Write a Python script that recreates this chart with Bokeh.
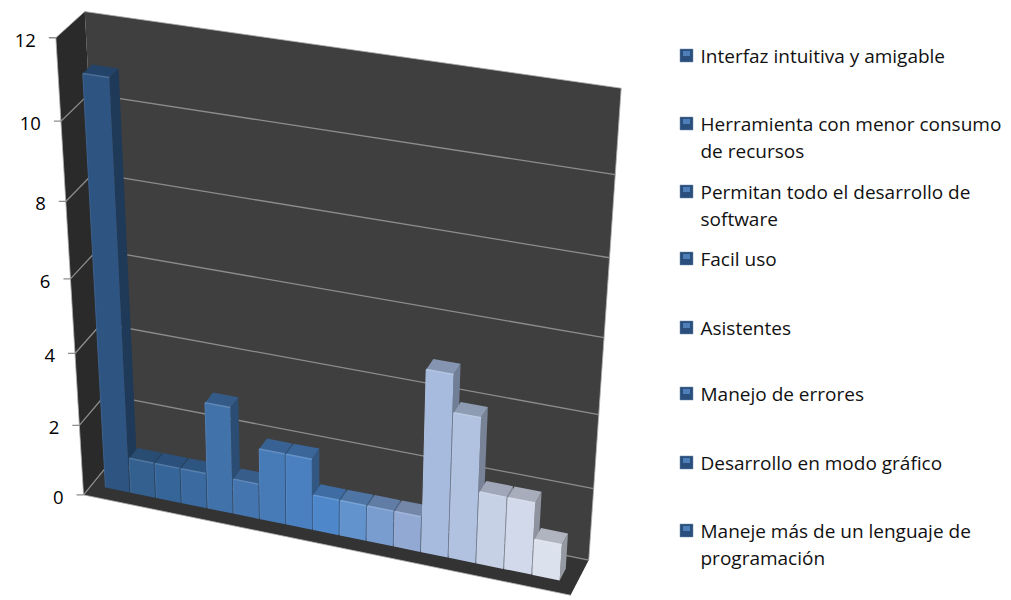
import numpy as np
from bokeh.plotting import figure
from bokeh.models import Range1d
from bokeh.core.properties import value
from bokeh.embed import file_html
from bokeh.resources import INLINE

# ---- data ----
bar_values = [11, 1, 1, 1, 3, 1, 2, 2, 1, 1, 1, 1, 5, 4, 2, 2, 1]
tick_values = [0, 2, 4, 6, 8, 10, 12]
tick_labels = ["0", "2", "4", "6", "8", "10", "12"]
legend_labels = [
    ["Interfaz intuitiva y amigable"],
    ["Herramienta con menor consumo", "de recursos"],
    ["Permitan todo el desarrollo de", "software"],
    ["Facil uso"],
    ["Asistentes"],
    ["Manejo de errores"],
    ["Desarrollo en modo gráfico"],
    ["Maneje más de un lenguaje de", "programación"],
]

# ---- style ----
bar_colors = ["#2e5482", "#33608f", "#36659a", "#3a6aa0", "#4272aa", "#4575ae", "#477bb8", "#4a80c0",
              "#4f87cb", "#6293cd", "#7a9dd0", "#92a9d4", "#a7bbde", "#b1c2e0", "#c7d1e6", "#d2d9ea", "#dce1ee"]
WALL_BACK, WALL_LEFT, FLOOR = "#3f3f3f", "#2a2a2a", "#333333"
GRID = "#8c8c8c"
FONT = value("Open Sans")
legend_rows = [55, 123, 191, 258, 327, 393, 462, 530]
LINE_GAP = 27
W, H = 1011, 600

# ---- perspective frame: plot-box landmarks (u, v, depth) -> page pixel, fitted as a camera ----
landmarks = [
    (0, 12, 1, 87, 10), (0, 0, 1, 106, 467), (1, 12, 1, 621, 88), (1, 0, 1, 588, 557),
    (1, 10, 1, 615, 175), (1, 8, 1, 609, 257), (1, 6, 1, 604, 337), (1, 4, 1, 598, 413), (1, 2, 1, 593, 488),
    (0, 12, 0, 53, 39), (0, 10, 0, 59, 120.5), (0, 8, 0, 65, 201), (0, 6, 0, 70, 278),
    (0, 4, 0, 75, 352), (0, 2, 0, 80, 423), (0, 0, 0, 85, 493), (1, 0, 0, 570, 598),
]
A, b = [], []
for u, v, d, x, y in landmarks:
    A.append([u, v, d, 1, 0, 0, 0, 0, -x * u, -x * v, -x * d]); b.append(x)
    A.append([0, 0, 0, 0, u, v, d, 1, -y * u, -y * v, -y * d]); b.append(y)
P = np.linalg.lstsq(np.array(A, float), np.array(b, float), rcond=None)[0]
P = np.append(P, 1.0).reshape(3, 4)


def proj(u, v, d):
    X = P @ np.array([u, v, d, 1.0])
    return X[0] / X[2], X[1] / X[2]


def poly(pts):
    q = [proj(*t) for t in pts]
    return [a for a, _ in q], [c for _, c in q]


def shade(col, f):
    r, g, bb = (int(col[i:i + 2], 16) for i in (1, 3, 5))
    if f <= 1:
        r, g, bb = r * f, g * f, bb * f
    else:
        t = f - 1
        r, g, bb = r + (255 - r) * t, g + (255 - g) * t, bb + (255 - bb) * t
    return "#%02x%02x%02x" % (int(r), int(g), int(bb))


p = figure(width=W, height=H, output_backend="svg", toolbar_location=None,
           x_range=Range1d(0, W), y_range=Range1d(H, 0),
           min_border=0, outline_line_color=None, background_fill_color="white")
p.xaxis.visible = False
p.yaxis.visible = False
p.grid.visible = False

vmax = max(tick_values)
# walls
for pts, c in [([(0, 0, 1), (1, 0, 1), (1, vmax, 1), (0, vmax, 1)], WALL_BACK),
               ([(0, 0, 0), (0, 0, 1), (0, vmax, 1), (0, vmax, 0)], WALL_LEFT),
               ([(0, 0, 0), (1, 0, 0), (1, 0, 1), (0, 0, 1)], FLOOR)]:
    xs, ys = poly(pts)
    p.patch(xs, ys, fill_color=c, line_color=None)

# wall edges
for pts in [[(0, vmax, 0), (0, vmax, 1), (1, vmax, 1), (1, 0, 1)], [(0, vmax, 0), (0, 0, 0), (1, 0, 0)]]:
    xs, ys = poly(pts)
    p.line(xs, ys, line_color="#b0b0b0", line_width=1, line_alpha=0.8)

# gridlines, ticks and tick labels
for t, lab in zip(tick_values, tick_labels):
    if t != vmax:
        xs, ys = poly([(1, t, 1), (0, t, 1), (0, t, 0)])
        p.line(xs, ys, line_color=GRID, line_width=1.3)
    fx, fy = proj(0, t, 0)
    p.segment([fx - 7], [fy], [fx], [fy], line_color=GRID, line_width=1.3)
    p.text([fx - 20], [fy + 2.5], text=[lab], text_font=FONT, text_font_size="18.5px", text_color="#000000",
           text_align="right", text_baseline="middle")

# bars
U0, PITCH, BW = 0.030, 0.0553, 0.0525
D0, D1 = 0.32, 0.65
for i, (val, col) in enumerate(zip(bar_values, bar_colors)):
    u0 = U0 + i * PITCH
    u1 = u0 + BW
    xs, ys = poly([(u1, 0, D0), (u1, 0, D1), (u1, val, D1), (u1, val, D0)])
    p.patch(xs, ys, fill_color=shade(col, 0.68), line_color=None)
    xs, ys = poly([(u0, val, D0), (u1, val, D0), (u1, val, D1), (u0, val, D1)])
    p.patch(xs, ys, fill_color=shade(col, 0.8), line_color=None)
    xs, ys = poly([(u0, 0, D0), (u1, 0, D0), (u1, val, D0), (u0, val, D0)])
    p.patch(xs, ys, fill_color=col, line_color=None)
    xs, ys = poly([(u0, val, D0), (u1, val, D0)])
    p.line(xs, ys, line_color=shade(col, 1.15), line_width=1.5)
    xs, ys = poly([(u0, 0, D0), (u0, val, D0)])
    p.line(xs, ys, line_color=shade(col, 1.08), line_width=1)

# legend
for row, lines in zip(legend_rows, legend_labels):
    p.rect([686], [row], width=13, height=13, fill_color="#2a4f7c", line_color="#6f8aa8", line_width=0.5)
    p.rect([686], [row - 2], width=7, height=5, fill_color="#4f7fb8", line_color=None)
    for k, line in enumerate(lines):
        p.text([700], [row + k * LINE_GAP], text=[line], text_font=FONT, text_font_size="19px",
               text_color="#111111", text_align="left", text_baseline="middle")

open("out.html", "w").write(file_html(p, INLINE))
